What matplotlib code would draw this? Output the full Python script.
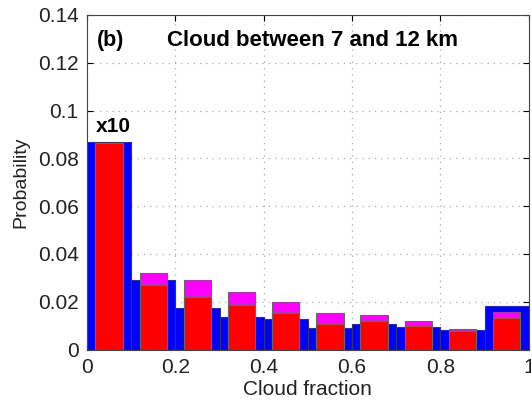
import matplotlib
matplotlib.use("Agg")
import matplotlib.pyplot as plt
import numpy as np

plt.rcParams['font.family'] = ['Liberation Sans', 'DejaVu Sans']

# cloud fraction bins (centres) and probabilities
bin_centres = [0.05, 0.15, 0.25, 0.35, 0.45, 0.55, 0.65, 0.75, 0.85, 0.95]
prob_blue = [0.0868, 0.0290, 0.0174, 0.0136, 0.0127, 0.0090, 0.0106, 0.0094, 0.0080, 0.0183]
prob_magenta = [0.0866, 0.0320, 0.0292, 0.0239, 0.0197, 0.0153, 0.0146, 0.0121, 0.0086, 0.0157]
prob_red = [0.0864, 0.0268, 0.0220, 0.0185, 0.0153, 0.0108, 0.0121, 0.0097, 0.0076, 0.0132]

xticks = [0, 0.2, 0.4, 0.6, 0.8, 1]
xtick_labels = ['0', '0.2', '0.4', '0.6', '0.8', '1']
yticks = [0, 0.02, 0.04, 0.06, 0.08, 0.1, 0.12, 0.14]
ytick_labels = ['0', '0.02', '0.04', '0.06', '0.08', '0.1', '0.12', '0.14']

fig = plt.figure(figsize=(5.31, 4.04), dpi=100)
ax = fig.add_axes([0.1638, 0.1349, 0.832, 0.828])

ax.bar(bin_centres, prob_blue, width=0.1, color='#0000ff', edgecolor='#333366', linewidth=0.8, zorder=2)
ax.bar(bin_centres, prob_magenta, width=0.062, color='#ff00ff', edgecolor='#666666', linewidth=0.8, zorder=3)
ax.bar(bin_centres, prob_red, width=0.062, color='#ff0000', edgecolor='#666666', linewidth=0.8, zorder=4)

ax.set_xlim(0, 1)
ax.set_ylim(0, 0.14)
ax.set_xticks(xticks)
ax.set_xticklabels(xtick_labels)
ax.set_yticks(yticks)
ax.set_yticklabels(ytick_labels)
ax.tick_params(direction='in', top=True, right=True, labelsize=15, length=4, pad=6,
               labelcolor='#222222')
ax.grid(True, linestyle=(0, (1, 4)), color='#aaaaaa', linewidth=0.9, zorder=1)
ax.set_axisbelow(True)
for s in ax.spines.values():
    s.set_color('#444444')
    s.set_linewidth(0.8)

ax.set_xlabel('Cloud fraction', fontsize=15, labelpad=2, color='#222222')
ax.set_ylabel('Probability', fontsize=14, labelpad=6, color='#222222')

ax.text(0.023, 0.1295, '(b)', fontsize=15.5, fontweight='bold', va='center', ha='left')
ax.text(0.181, 0.1295, 'Cloud between 7 and 12 km', fontsize=16, fontweight='bold', va='center', ha='left')
ax.text(0.02, 0.0895, 'x10', fontsize=15, fontweight='bold', va='bottom', ha='left', zorder=5)

fig.savefig('out.png', dpi=100)
